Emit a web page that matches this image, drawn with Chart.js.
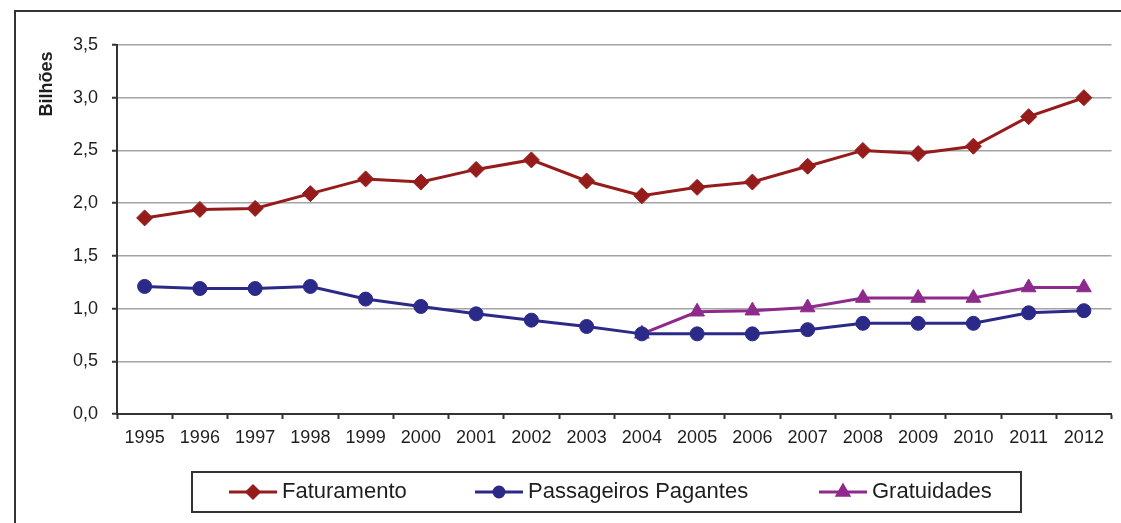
<!DOCTYPE html>
<html>
<head>
<meta charset="utf-8">
<script src="https://cdn.jsdelivr.net/npm/chart.js@4/dist/chart.umd.min.js"></script>
<style>
  html, body { margin: 0; padding: 0; background: #ffffff; }
  #c { display: block; }
</style>
</head>
<body>
<canvas id="c" width="1121" height="523"></canvas>
<script>
// Anos da série
const anos = ['1995','1996','1997','1998','1999','2000','2001','2002','2003',
              '2004','2005','2006','2007','2008','2009','2010','2011','2012'];

// Valores em bilhões
const faturamento = [1.86, 1.94, 1.95, 2.09, 2.23, 2.20, 2.32, 2.41, 2.21,
                     2.07, 2.15, 2.20, 2.35, 2.50, 2.47, 2.54, 2.82, 3.00];
const passageirosPagantes = [1.21, 1.19, 1.19, 1.21, 1.09, 1.02, 0.95, 0.89, 0.83,
                             0.76, 0.76, 0.76, 0.80, 0.86, 0.86, 0.86, 0.96, 0.98];
const gratuidades = [null, null, null, null, null, null, null, null, null,
                     0.76, 0.97, 0.98, 1.01, 1.10, 1.10, 1.10, 1.20, 1.20];

// Marcas do eixo vertical
const yTicks = [0, 0.5, 1.0, 1.5, 2.0, 2.5, 3.0, 3.5];

const FONT = "'Liberation Sans', Arial, Helvetica, sans-serif";
const INK = '#1e1e1e';
const AXIS = '#333333';

const series = [
  { label: 'Faturamento', data: faturamento, color: '#961c1c', style: 'rectRot', radius: 8, legendRadius: 6 },
  { label: 'Passageiros Pagantes', data: passageirosPagantes, color: '#2b2a88', style: 'circle', radius: 7, legendRadius: 5 },
  { label: 'Gratuidades', data: gratuidades, color: '#8e2a8c', style: 'triangle', radius: 8.5, legendRadius: 6.5 }
];

// Moldura externa do gráfico
const framePlugin = {
  id: 'frame',
  beforeDraw(chart) {
    const ctx = chart.ctx;
    ctx.save();
    ctx.fillStyle = '#ffffff';
    ctx.fillRect(0, 0, chart.width, chart.height);
    ctx.strokeStyle = AXIS;
    ctx.lineWidth = 2;
    ctx.strokeRect(15, 11, chart.width + 20, chart.height + 20);
    ctx.restore();
  }
};

// Título do eixo vertical
const yTitlePlugin = {
  id: 'yTitle',
  afterDraw(chart) {
    const ctx = chart.ctx;
    ctx.save();
    ctx.translate(47, 84);
    ctx.rotate(-Math.PI / 2);
    ctx.font = "bold 18px " + FONT;
    ctx.fillStyle = INK;
    ctx.textAlign = 'center';
    ctx.textBaseline = 'middle';
    ctx.fillText('Bilhões', 0, 0);
    ctx.restore();
  }
};

// Legenda em caixa, com linha e marcador de cada série
const boxLegendPlugin = {
  id: 'boxLegend',
  afterDraw(chart, args, opts) {
    const ctx = chart.ctx;
    const box = opts.box;
    ctx.save();
    ctx.fillStyle = '#ffffff';
    ctx.fillRect(box.x, box.y, box.w, box.h);
    ctx.strokeStyle = AXIS;
    ctx.lineWidth = 2;
    ctx.strokeRect(box.x, box.y, box.w, box.h);
    const cy = box.y + box.h / 2;
    ctx.font = opts.fontSize + 'px ' + FONT;
    ctx.textBaseline = 'middle';
    ctx.textAlign = 'left';
    chart.data.datasets.forEach((ds, i) => {
      const x0 = opts.starts[i];
      const x1 = x0 + opts.lineLength;
      ctx.strokeStyle = ds.borderColor;
      ctx.lineWidth = 3;
      ctx.beginPath();
      ctx.moveTo(x0, cy);
      ctx.lineTo(x1, cy);
      ctx.stroke();
      ctx.fillStyle = ds.pointBackgroundColor;
      ctx.strokeStyle = ds.pointBorderColor;
      Chart.helpers.drawPoint(ctx, {
        pointStyle: ds.pointStyle,
        radius: series[i].legendRadius,
        rotation: 0,
        borderWidth: 1
      }, (x0 + x1) / 2, cy);
      ctx.fillStyle = INK;
      ctx.fillText(ds.label, x1 + 5, cy);
    });
    ctx.restore();
  }
};

new Chart(document.getElementById('c'), {
  type: 'line',
  data: {
    labels: anos,
    datasets: series.map(s => ({
      label: s.label,
      data: s.data,
      borderColor: s.color,
      backgroundColor: s.color,
      borderWidth: 3,
      pointStyle: s.style,
      pointRadius: s.radius,
      pointHoverRadius: s.radius,
      pointBackgroundColor: s.color,
      pointBorderColor: s.color,
      pointBorderWidth: 1,
      tension: 0,
      spanGaps: false,
      fill: false
    }))
  },
  options: {
    responsive: false,
    animation: false,
    devicePixelRatio: 1,
    layout: { padding: { top: 45, right: 6, left: 0, bottom: 0 } },
    plugins: {
      legend: { display: false },
      tooltip: { enabled: false },
      boxLegend: {
        box: { x: 192, y: 472, w: 829, h: 40 },
        starts: [229, 475, 819],
        lineLength: 48,
        fontSize: 22
      }
    },
    scales: {
      x: {
        type: 'category',
        offset: true,
        afterFit(scale) { scale.height = 109; },
        grid: {
          display: true,
          drawOnChartArea: false,
          offset: true,
          tickLength: 5,
          tickColor: AXIS,
          tickWidth: 2
        },
        border: { display: true, color: AXIS, width: 2 },
        ticks: {
          color: INK,
          padding: 8,
          maxRotation: 0,
          autoSkip: false,
          font: { family: FONT, size: 18 }
        }
      },
      y: {
        min: 0,
        max: 3.5,
        afterFit(scale) { scale.width = 117; },
        afterBuildTicks(scale) { scale.ticks = yTicks.map(v => ({ value: v })); },
        grid: {
          color: '#a4a4a4',
          lineWidth: 1.5,
          tickLength: 5,
          tickColor: AXIS,
          tickWidth: 2
        },
        border: { display: true, color: AXIS, width: 2 },
        ticks: {
          color: INK,
          padding: 14,
          font: { family: FONT, size: 18 },
          callback: v => Number(v).toFixed(1).replace('.', ',')
        }
      }
    }
  },
  plugins: [framePlugin, yTitlePlugin, boxLegendPlugin]
});
</script>
</body>
</html>
